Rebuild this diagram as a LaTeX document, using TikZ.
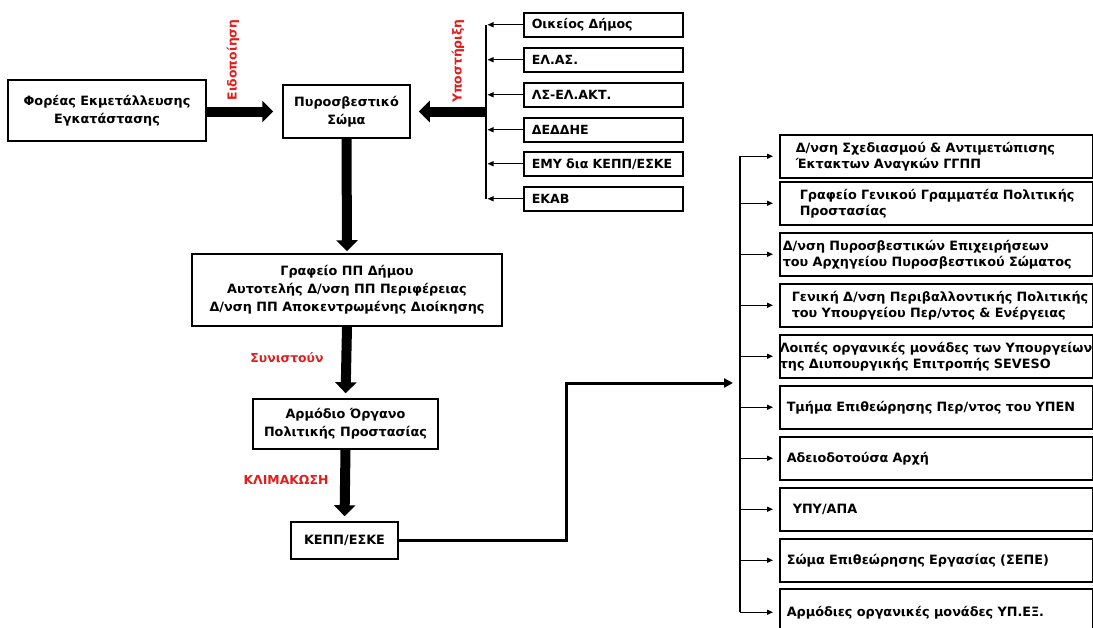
\documentclass[tikz,border=0pt]{standalone}
\usepackage{fontspec}
\setmainfont{DejaVu Sans}
\usetikzlibrary{arrows.meta}
\definecolor{lblred}{RGB}{228,28,28}
\tikzset{
  box/.style={draw=black, line width=1.5pt, inner sep=0pt, align=center,
    font=\bfseries\fontsize{12.8}{18}\selectfont},
  sbox/.style={draw=black, line width=1.5pt, anchor=north west, minimum height=24pt,
    inner ysep=0pt, inner xsep=8pt, text width=143pt, align=left,
    font=\bfseries\fontsize{12.6}{14}\selectfont},
  rbox/.style={draw=black, line width=1.5pt, anchor=north west, minimum height=43pt,
    inner ysep=0pt, inner xsep=#1pt, text width=\dimexpr313pt-#1pt-#1pt\relax, align=left,
    font=\bfseries\fontsize{12.8}{16}\selectfont},
  fat/.style={line width=10pt, -{Triangle[length=11pt,width=21pt]}},
  thinarr/.style={line width=1.3pt, -{Triangle[length=6pt,width=5pt]}},
  medarr/.style={line width=3pt, -{Triangle[length=9pt,width=9pt]}},
  busline/.style={line width=1.3pt},
  redlbl/.style={text=lblred, inner sep=0pt, font=\bfseries\fontsize{12.4}{14}\selectfont},
}
\begin{document}
\begin{tikzpicture}[x=1pt,y=-1pt]
\clip (0,0) rectangle (1093,627);
\fill[white] (0,0) rectangle (1093,627);

% central column
\node[box, minimum width=198pt, minimum height=61pt] (foreas) at (107,110.5) {Φορέας Εκμετάλλευσης\\Εγκατάστασης};
\node[box, minimum width=127pt, minimum height=53pt] (pyro) at (346.5,111.5) {Πυροσβεστικό\\Σώμα};
\node[box, minimum width=310pt, minimum height=72pt] (graf) at (347,290) {Γραφείο ΠΠ Δήμου\\Αυτοτελής Δ/νση ΠΠ Περιφέρειας\\Δ/νση ΠΠ Αποκεντρωμένης Διοίκησης};
\node[box, minimum width=185pt, minimum height=50pt] (armod) at (345.5,424) {Αρμόδιο Όργανο\\Πολιτικής Προστασίας};
\node[box, minimum width=107pt, minimum height=37pt] (kepp) at (344.5,540.5) {ΚΕΠΠ/ΕΣΚΕ};

% support boxes
\node[sbox] (o1) at (523,12) {Οικείος Δήμος};
\node[sbox] (o2) at (523,47) {ΕΛ.ΑΣ.};
\node[sbox] (o3) at (523,82) {ΛΣ-ΕΛ.ΑΚΤ.};
\node[sbox] (o4) at (523,117) {ΔΕΔΔΗΕ};
\node[sbox] (o5) at (523,151) {ΕΜΥ δια ΚΕΠΠ/ΕΣΚΕ};
\node[sbox] (o6) at (523,186) {ΕΚΑΒ};

% right boxes
\node[rbox=16] (r1) at (779,134) {\mbox{Δ/νση Σχεδιασμού \& Αντιμετώπισης}\\\mbox{Έκτακτων Αναγκών ΓΓΠΠ}};
\node[rbox=20] (r2) at (779,181) {\mbox{Γραφείο Γενικού Γραμματέα Πολιτικής}\\\mbox{Προστασίας}};
\node[rbox=3] (r3) at (779,232) {\mbox{Δ/νση Πυροσβεστικών Επιχειρήσεων}\\\mbox{του Αρχηγείου Πυροσβεστικού Σώματος}};
\node[rbox=12] (r4) at (779,283) {\mbox{Γενική Δ/νση Περιβαλλοντικής Πολιτικής}\\\mbox{του Υπουργείου Περ/ντος \& Ενέργειας}};
\node[rbox=0] (r5) at (779,334) {\mbox{Λοιπές οργανικές μονάδες των Υπουργείων}\\\mbox{της Διυπουργικής Επιτροπής SEVESO}};
\node[rbox=7] (r6) at (779,385) {\mbox{Τμήμα Επιθεώρησης Περ/ντος του ΥΠΕΝ}};
\node[rbox=7] (r7) at (779,436) {Αδειοδοτούσα Αρχή};
\node[rbox=13] (r8) at (779,487) {ΥΠΥ/ΑΠΑ};
\node[rbox=7] (r9) at (779,538) {\mbox{Σώμα Επιθεώρησης Εργασίας (ΣΕΠΕ)}};
\node[rbox=7, minimum height=47pt] (r10) at (779,588) {\mbox{Αρμόδιες οργανικές μονάδες ΥΠ.ΕΞ.}};

% labels
\node[redlbl, rotate=90] (l1) at (233,60) {Ειδοποίηση};
\node[redlbl, rotate=90] (l2) at (458,61) {Υποστήριξη};
\node[redlbl] (l3) at (287,358) {Συνιστούν};
\node[redlbl] (l4) at (286,480) {ΚΛΙΜΑΚΩΣΗ};

% coordinates for buses
\coordinate (bl) at (486,0);
\coordinate (br) at (740,0);
\coordinate (kk) at (566,383);

% fat arrows
\draw[fat, shorten >=9pt] (foreas.east |- pyro.east) -- (pyro.west);
\draw[fat, shorten >=8pt] (bl |- pyro.east) -- (pyro.east);
\draw[fat, shorten >=2pt] (pyro.south) -- (graf.north);
\draw[fat, shorten >=5pt] (graf.south) -- (armod.north);
\draw[fat, shorten >=5pt] (armod.south) -- (kepp.north);

% left bus
\draw[busline] (bl |- o1.west) -- (bl |- o6.west);
\foreach \n in {o1,o2,o3,o4,o5,o6}
  \draw[thinarr, shorten >=1.5pt] (\n.west) -- (bl |- \n.west);

% KEPP connector
\draw[medarr, shorten >=7pt] (kepp.east) -| (kk) -- (br |- kk);

% right bus
\draw[busline] (br |- r1.west) -- (br |- r10.west);
\foreach \n in {r1,r2,r3,r4,r5,r6,r7,r8,r9,r10}
  \draw[thinarr, shorten >=6pt] (br |- \n.west) -- (\n.west);
\end{tikzpicture}
\end{document}
